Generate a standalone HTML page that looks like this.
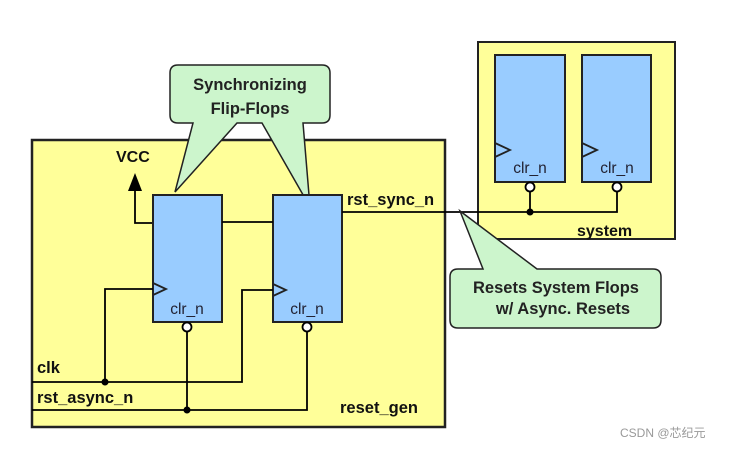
<!DOCTYPE html>
<html><head><style>
body{margin:0;background:#fff;}
svg text{font-family:"Liberation Sans",Arial,sans-serif;}
</style></head><body>
<svg width="739" height="448" viewBox="0 0 739 448" xmlns="http://www.w3.org/2000/svg">
<rect x="0" y="0" width="739" height="448" fill="#fff"/>
<!-- system box -->
<rect x="478" y="42" width="197" height="197" fill="#ffff99" stroke="#222" stroke-width="2"/>
<!-- reset_gen box -->
<rect x="32" y="140" width="413" height="287" fill="#ffff99" stroke="#222" stroke-width="2.5"/>
<!-- callout 1 -->
<path d="M178,65 H322 Q330,65 330,73 V115 Q330,123 322,123 H303 L310,207 L262,123 H237 L175,192 L193,123 H178 Q170,123 170,115 V73 Q170,65 178,65 Z" fill="#ccf5cc" stroke="#222" stroke-width="1.5"/>
<text x="250" y="90" font-size="16.5" font-weight="bold" text-anchor="middle" fill="#222">Synchronizing</text>
<text x="250" y="114" font-size="16.5" font-weight="bold" text-anchor="middle" fill="#222">Flip-Flops</text>
<!-- VCC -->
<text x="116" y="162" font-size="16" font-weight="bold" fill="#111">VCC</text>
<polygon points="135,173 128,191 142,191" fill="#000"/>
<polyline points="135,190 135,223 153,223" fill="none" stroke="#000" stroke-width="1.8"/>
<!-- FFs -->
<rect x="153" y="195" width="69" height="127" fill="#99ccff" stroke="#222" stroke-width="2"/>
<rect x="273" y="195" width="69" height="127" fill="#99ccff" stroke="#222" stroke-width="2"/>
<polyline points="153,283 166,289 153,295" fill="none" stroke="#222" stroke-width="1.8"/>
<polyline points="273,284 286,290 273,296" fill="none" stroke="#222" stroke-width="1.8"/>
<text x="187" y="314" font-size="15.5" text-anchor="middle" fill="#223">clr_n</text>
<text x="307" y="314" font-size="15.5" text-anchor="middle" fill="#223">clr_n</text>
<line x1="222" y1="222" x2="273" y2="222" stroke="#000" stroke-width="1.8"/>
<!-- rst_sync_n -->
<text x="347" y="205" font-size="16.5" font-weight="bold" fill="#111">rst_sync_n</text>
<polyline points="342,212 530,212" fill="none" stroke="#000" stroke-width="1.8"/>
<!-- clk -->
<polyline points="153,289 105,289 105,382" fill="none" stroke="#000" stroke-width="1.8"/>
<polyline points="32,382 242,382 242,290 273,290" fill="none" stroke="#000" stroke-width="1.8"/>
<circle cx="105" cy="382" r="3.5" fill="#000"/>
<text x="37" y="373" font-size="16.5" font-weight="bold" fill="#111">clk</text>
<!-- rst_async -->
<circle cx="187" cy="327" r="4.5" fill="#fff" stroke="#000" stroke-width="1.8"/>
<circle cx="307" cy="327" r="4.5" fill="#fff" stroke="#000" stroke-width="1.8"/>
<line x1="187" y1="331" x2="187" y2="410" stroke="#000" stroke-width="1.8"/>
<polyline points="32,410 307,410 307,331" fill="none" stroke="#000" stroke-width="1.8"/>
<circle cx="187" cy="410" r="3.5" fill="#000"/>
<text x="37" y="403" font-size="16.5" font-weight="bold" fill="#111">rst_async_n</text>
<text x="340" y="413" font-size="16.5" font-weight="bold" fill="#111">reset_gen</text>
<!-- system FFs -->
<rect x="495" y="55" width="70" height="127" fill="#99ccff" stroke="#222" stroke-width="2"/>
<rect x="582" y="55" width="69" height="127" fill="#99ccff" stroke="#222" stroke-width="2"/>
<polyline points="495,143 510,150 495,157" fill="none" stroke="#222" stroke-width="1.8"/>
<polyline points="582,143 597,150 582,157" fill="none" stroke="#222" stroke-width="1.8"/>
<text x="530" y="173" font-size="15.5" text-anchor="middle" fill="#223">clr_n</text>
<text x="617" y="173" font-size="15.5" text-anchor="middle" fill="#223">clr_n</text>
<circle cx="530" cy="187" r="4.5" fill="#fff" stroke="#000" stroke-width="1.8"/>
<circle cx="617" cy="187" r="4.5" fill="#fff" stroke="#000" stroke-width="1.8"/>
<line x1="530" y1="191" x2="530" y2="212" stroke="#000" stroke-width="1.8"/>
<polyline points="530,212 617,212 617,191" fill="none" stroke="#000" stroke-width="1.8"/>
<circle cx="530" cy="212" r="3.5" fill="#000"/>
<text x="577" y="236" font-size="16" font-weight="bold" fill="#111">system</text>
<!-- callout 2 -->
<path d="M458,269 H483 L460,211 L537,269 H653 Q661,269 661,277 V320 Q661,328 653,328 H458 Q450,328 450,320 V277 Q450,269 458,269 Z" fill="#ccf5cc" stroke="#222" stroke-width="1.5"/>
<text x="556" y="293" font-size="16.5" font-weight="bold" text-anchor="middle" fill="#222">Resets System Flops</text>
<text x="563" y="314" font-size="16.5" font-weight="bold" text-anchor="middle" fill="#222">w/ Async. Resets</text>
<text x="620" y="437" font-size="12" fill="#999">CSDN @芯纪元</text>
</svg>
</body></html>
